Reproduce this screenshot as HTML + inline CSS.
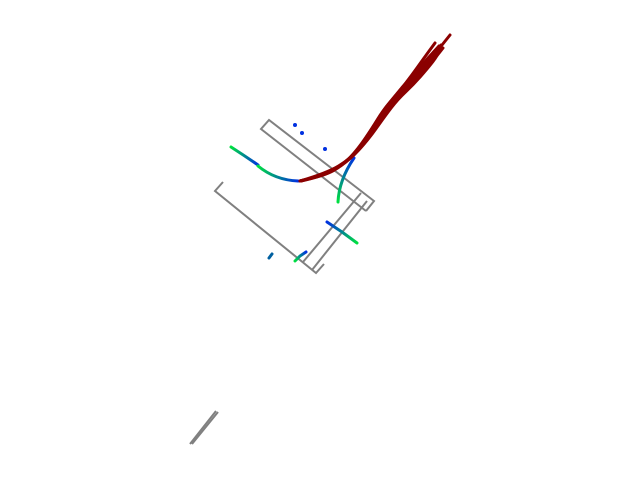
<!DOCTYPE html>
<html><head><meta charset="utf-8"><style>html,body{margin:0;padding:0;background:#fff}svg{display:block}</style></head>
<body>
<svg id="c" width="640" height="480" xmlns="http://www.w3.org/2000/svg">
<defs>
<linearGradient id="gA" gradientUnits="userSpaceOnUse" x1="231" y1="147" x2="258" y2="165"><stop offset="0" stop-color="#00e040"/><stop offset="1" stop-color="#0030e0"/></linearGradient>
<linearGradient id="gB" gradientUnits="userSpaceOnUse" x1="258" y1="166" x2="298" y2="181"><stop offset="0" stop-color="#00e040"/><stop offset="1" stop-color="#0030e0"/></linearGradient>
<linearGradient id="gC" gradientUnits="userSpaceOnUse" x1="338" y1="202" x2="354" y2="158"><stop offset="0" stop-color="#00e040"/><stop offset="1" stop-color="#0030e0"/></linearGradient>
<linearGradient id="gD" gradientUnits="userSpaceOnUse" x1="327" y1="222" x2="357" y2="243"><stop offset="0" stop-color="#0030e0"/><stop offset="1" stop-color="#00e040"/></linearGradient>
<linearGradient id="gE" gradientUnits="userSpaceOnUse" x1="295" y1="261" x2="306" y2="252"><stop offset="0" stop-color="#00e040"/><stop offset="1" stop-color="#0030e0"/></linearGradient>
</defs>
<g id="lanes" fill="none" stroke="#808080" stroke-width="2">
<polyline points="366,211 261,129 269,120 374,201 366,211"/>
<polyline points="223,182 215,191 316,273 324,264"/>
<line x1="361" y1="193" x2="303" y2="262"/>
<line x1="367" y1="201" x2="312" y2="270"/>
<line x1="190" y1="444" x2="216" y2="411"/>
<line x1="192" y1="444" x2="218" y2="412"/>
</g>
<g id="agents" fill="none" stroke-width="3" stroke-linecap="round">
<path stroke="url(#gA)" d="M231,147 Q245,156 258,165"/>
<path stroke="url(#gB)" d="M258,166 Q275,180 298,181"/>
<path stroke="url(#gC)" d="M354,158 Q339,180 338,202"/>
<polyline stroke="url(#gD)" points="327,222 342,232 357,243"/>
<polyline stroke="url(#gE)" points="295,261 300,256 306,252"/>
<polyline stroke="#0060a0" points="269,258 272,254"/>
</g>
<g fill="#0030e0">
<circle cx="295" cy="125" r="2"/>
<circle cx="302" cy="133" r="2"/>
<circle cx="325" cy="149" r="2"/>
</g>
<g id="preds" fill="none" stroke="#8b0000" stroke-width="3" stroke-linecap="round" stroke-linejoin="round"></g>
</svg>
<script>
const predX = [
 [300,325,345,362,378,390,406,421,434,450],
 [300,324,343,358,373,384,398,412,424,435],
 [301,326,348,366,382,395,410,424,436,443],
 [301,323,342,357,371,382,395,410,425,437],
 [300,327,350,368,385,398,413,428,438,441],
 [300,325,346,363,379,388,402,416,428,439]
];
const predY = [
 [181,175,163,145,121,103,88,70,55,35],
 [181,176,165,149,127,109,93,75,58,43],
 [181,174,161,142,118,101,87,70,57,48],
 [181,176,166,151,130,112,96,78,63,53],
 [181,173,159,140,116,99,85,68,55,45],
 [181,175,163,146,124,104,90,72,58,46]
];
const g = document.getElementById('preds');
for (let i = 0; i < predX.length; i++) {
  const xs = predX[i], ys = predY[i];
  let d = 'M' + xs[0] + ',' + ys[0];
  for (let j = 1; j < xs.length - 1; j++) {
    const mx = (xs[j] + xs[j+1]) / 2, my = (ys[j] + ys[j+1]) / 2;
    d += ' Q' + xs[j] + ',' + ys[j] + ' ' + mx + ',' + my;
  }
  d += ' L' + xs[xs.length-1] + ',' + ys[ys.length-1];
  const p = document.createElementNS('http://www.w3.org/2000/svg','path');
  p.setAttribute('d', d);
  
  
  g.appendChild(p);
}
</script>
</body></html>
